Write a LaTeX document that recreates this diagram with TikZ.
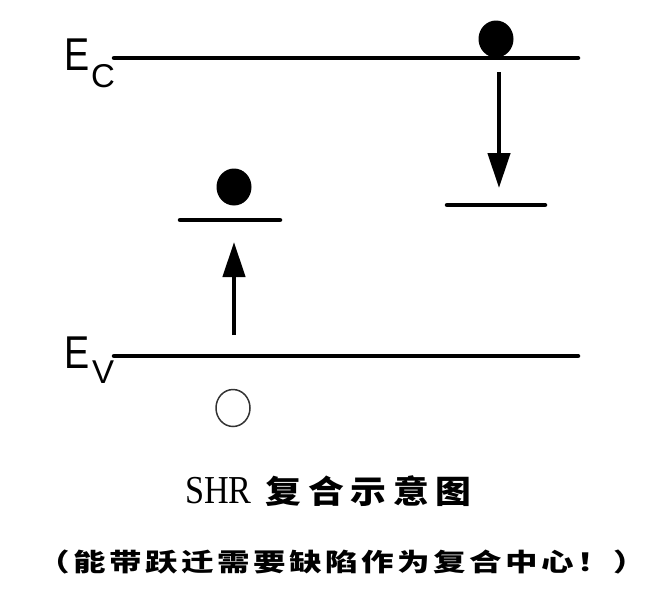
\documentclass[tikz,border=0pt]{standalone}
\usepackage{fontspec}
\setmainfont{Liberation Serif}
\newfontfamily\sansE{Liberation Sans}
\newfontfamily\cjkA[FakeStretch=1.12,LetterSpace=21]{Noto Sans CJK SC}
\newfontfamily\cjkB[FakeStretch=1.3,LetterSpace=14]{Noto Sans CJK SC}
\usetikzlibrary{arrows.meta,shapes.geometric}
\begin{document}
\begin{tikzpicture}[x=1pt,y=-1pt,
  lvl/.style={line width=4.5pt,line cap=round},
  arr/.style={line width=4.5pt,-{Triangle[width=22pt,length=35pt]}},
  electron/.style={ellipse,fill=black,inner sep=0pt,minimum width=35pt,minimum height=37pt},
  hole/.style={ellipse,draw=black!80,line width=1.5pt,inner sep=0pt,minimum width=34pt,minimum height=37pt},
  lab/.style={anchor=base west,inner sep=0pt}]
\useasboundingbox (0,0) rectangle (660,595);
% energy levels
\coordinate (ecL) at (114,58); \coordinate (ecR) at (578,58);
\coordinate (evL) at (114,356); \coordinate (evR) at (578,356);
\coordinate (t1L) at (180,220); \coordinate (t1R) at (280,220);
\coordinate (t2L) at (447,205); \coordinate (t2R) at (545,205);
\draw[lvl] (ecL) -- (ecR);
\draw[lvl] (evL) -- (evR);
\draw[lvl] (t1L) -- (t1R);
\draw[lvl] (t2L) -- (t2R);
% labels
\node[lab] (ecE) at (64.5,70) {\sansE\fontsize{46}{46}\selectfont\scalebox{0.82}[1]{E}};
\node[lab] (ecC) at (91,87) {\sansE\fontsize{33}{33}\selectfont C};
\node[lab] (evE) at (64.5,368) {\sansE\fontsize{46}{46}\selectfont\scalebox{0.82}[1]{E}};
\node[lab] (evV) at (92,383) {\sansE\fontsize{33}{33}\selectfont V};
% carriers
\node[electron] (e1) at (496,39) {};
\node[electron] (e2) at (234,187) {};
\node[hole] (h1) at (233,408) {};
% transitions
\coordinate (a1s) at (499,72); \coordinate (a1e) at (499,188);
\coordinate (a2s) at (234,335); \coordinate (a2e) at (234,242);
\draw[arr] (a1s) -- (a1e);
\draw[arr] (a2s) -- (a2e);
% captions
\node[lab] (title) at (185,503) {\fontsize{36}{36}\selectfont\scalebox{0.95}[1.1]{SHR}\hspace{14pt}{\cjkA\bfseries\fontsize{32}{32}\selectfont 复合示意图}};
\node[anchor=base,inner sep=0pt] (note) at (342,571) {\cjkB\bfseries\fontsize{25}{25}\selectfont （能带跃迁需要缺陷作为复合中心！）};
\end{tikzpicture}
\end{document}
